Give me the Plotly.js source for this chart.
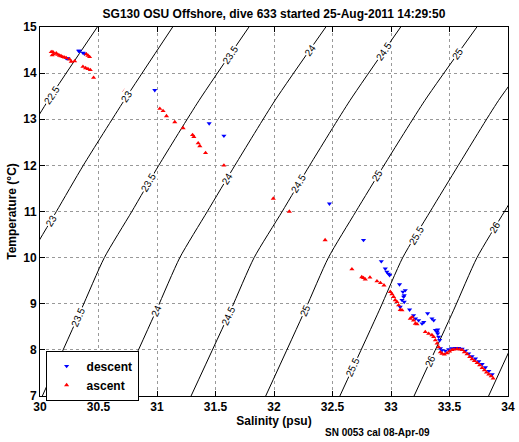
<!DOCTYPE html>
<html>
<head>
<meta charset="utf-8">
<script src="https://cdn.plot.ly/plotly-3.0.1.min.js"></script>
<style>html,body{margin:0;padding:0;background:#fff;}#chart{width:519px;height:442px;}</style>
</head>
<body>
<div id="chart"></div>
<script>
// ---- Data ----
// Descent profile (blue, downward triangles): salinity (psu) and temperature (°C)
const descentS = [30.224, 30.238, 30.33, 30.338, 30.367, 30.38,
  30.981, 31.446, 31.572, 32.474, 32.765, 32.917,
  32.951, 32.965, 32.979, 32.988, 33.073,
  33.122, 33.102, 33.113, 33.108, 33.094, 33.113, 33.159, 33.079,
  33.193, 33.21, 33.236, 33.265, 33.28, 33.313, 33.35, 33.365, 33.40,
  33.379, 33.394, 33.399, 33.407, 33.416,
  33.422, 33.436, 33.465, 33.493, 33.522, 33.55, 33.579, 33.608, 33.636, 33.664,
  33.693, 33.722, 33.75, 33.779, 33.807, 33.836, 33.865];
const descentT = [14.32, 14.32, 14.48, 14.48, 14.44, 14.42,
  13.63, 12.91, 12.64, 11.17, 10.38, 9.92,
  9.76, 9.69, 9.65, 9.62, 9.42,
  9.29, 9.26, 9.18, 9.15, 9.08, 9.04, 8.87, 8.93,
  8.75, 8.68, 8.64, 8.57, 8.60, 8.79, 8.68, 8.64, 8.44,
  8.43, 8.39, 8.35, 8.28, 8.21,
  8.03, 7.99, 7.98, 8.01, 8.03, 8.04, 8.04, 8.02, 7.98, 7.92,
  7.86, 7.81, 7.75, 7.69, 7.62, 7.54, 7.47];

// Ascent profile (red, upward triangles)
const ascentS = [30.096, 30.104, 30.110, 30.116, 30.139, 30.153, 30.167, 30.18, 30.195, 30.21,
  30.224, 30.253, 30.267, 30.296, 30.396, 30.41, 30.424,
  30.367, 30.39, 30.41, 30.43, 30.458,
  30.724, 31.024, 31.052, 31.081, 31.152, 31.223, 31.304, 31.315, 31.352, 31.366, 31.415,
  31.572, 31.994, 32.131, 32.437, 32.666,
  32.75, 32.765, 32.78, 32.82, 32.88, 32.91, 32.94,
  32.994, 33.008, 33.022, 33.036, 33.051, 33.065, 33.079, 33.094,
  33.165, 33.18, 33.193, 33.208, 33.222,
  33.293, 33.322, 33.35, 33.365, 33.379, 33.394, 33.407, 33.422,
  33.436, 33.456, 33.479, 33.501, 33.522, 33.54, 33.565, 33.587, 33.608, 33.627,
  33.65, 33.673, 33.693, 33.713, 33.736, 33.758, 33.779, 33.798, 33.816, 33.836, 33.856, 33.873];
const ascentT = [14.46, 14.39, 14.46, 14.41, 14.43, 14.40, 14.38, 14.37, 14.35, 14.34,
  14.33, 14.30, 14.25, 14.26, 14.41, 14.38, 14.35,
  14.14, 14.11, 14.09, 14.07, 13.90,
  13.62, 13.23, 13.18, 13.07, 12.94, 12.81, 12.66, 12.62, 12.48, 12.42, 12.27,
  12.00, 11.28, 11.00, 10.38, 9.75,
  9.58, 9.56, 9.53, 9.57, 9.49, 9.45, 9.40,
  9.26, 9.21, 9.15, 9.08, 9.04, 8.97, 8.87, 8.86,
  8.68, 8.71, 8.64, 8.57, 8.56,
  8.39, 8.35, 8.32, 8.28, 8.21, 8.14, 8.06, 7.95,
  7.92, 7.90, 7.93, 7.97, 8.00, 8.01, 8.02, 8.01, 8.00, 7.95,
  7.91, 7.85, 7.80, 7.76, 7.72, 7.67, 7.61, 7.56, 7.51, 7.47, 7.43, 7.38];

// Isopycnals (sigma-theta): salinity at these temperatures
const isoT = [7, 8.86, 10, 11, 12, 13.41, 15];
const sigma225S = [28.73, 29.07, 29.27, 29.50, 29.73, 30.07, 30.49];
const sigma23S  = [29.37, 29.71, 29.91, 30.14, 30.37, 30.72, 31.134];
const sigma235S = [30.02, 30.35, 30.55, 30.785, 31.015, 31.36, 31.786];
const sigma24S  = [30.663, 30.995, 31.195, 31.43, 31.666, 32.009, 32.443];
const sigma245S = [31.291, 31.63, 31.83, 32.07, 32.305, 32.65, 33.083];
const sigma25S  = [31.929, 32.265, 32.465, 32.70, 32.94, 33.29, 33.734];
const sigma255S = [32.563, 32.90, 33.10, 33.335, 33.575, 33.92, 34.38];
const sigma26S  = [33.197, 33.535, 33.735, 33.97, 34.21, 34.56, 35.02];
const sigma265S = [33.834, 34.17, 34.37, 34.61, 34.85, 35.2, 35.66];
const isoLevels = ['22.5', '23', '23.5', '24', '24.5', '25', '25.5', '26', '26.5'];

// Inline contour labels: level and temperature where each sits on its line
const labelLevel = ['22.5', '23', '23', '23.5', '23.5', '23.5', '24', '24', '24',
  '24.5', '24.5', '24.5', '25', '25', '25', '25.5', '25.5', '26', '26'];
const labelT = [13.52, 13.49, 10.81, 14.41, 11.62, 8.71, 14.5, 11.72, 8.86,
  14.47, 11.6, 8.75, 14.42, 11.77, 8.86, 10.49, 7.63, 10.67, 7.77];

const xTicks = [30, 30.5, 31, 31.5, 32, 32.5, 33, 33.5, 34];
const yTicks = [7, 8, 9, 10, 11, 12, 13, 14, 15];

// ---- Build chart ----
const isoS = [sigma225S, sigma23S, sigma235S, sigma24S, sigma245S, sigma25S, sigma255S, sigma26S, sigma265S];
const BOLD = {family: 'Liberation Sans, Arial, Helvetica, sans-serif', size: 12, color: '#000', weight: 'bold'};
const W = 519, H = 442;
const M = {l: 40, r: 11, t: 27, b: 46};
const pxPerS = (W - M.l - M.r) / 4;
const pxPerT = (H - M.t - M.b) / 8;

const traces = [];
isoLevels.forEach((lev, i) => {
  traces.push({
    type: 'scatter', mode: 'lines', x: isoS[i], y: isoT,
    line: {color: '#000', width: 1, shape: 'spline', smoothing: 0.6},
    showlegend: false, hoverinfo: 'skip'
  });
});
traces.push({
  type: 'scatter', mode: 'markers', name: 'descent', x: descentS, y: descentT,
  marker: {symbol: 'triangle-down', size: 4.5, color: '#0000ff'}
});
traces.push({
  type: 'scatter', mode: 'markers', name: 'ascent', x: ascentS, y: ascentT,
  marker: {symbol: 'triangle-up', size: 4.5, color: '#ff0000'}
});

function sOnLine(sArr, t) {
  for (let k = 0; k < isoT.length - 1; k++) {
    if (t >= isoT[k] && t <= isoT[k + 1]) {
      const f = (t - isoT[k]) / (isoT[k + 1] - isoT[k]);
      return {s: sArr[k] + f * (sArr[k + 1] - sArr[k]), slope: (sArr[k + 1] - sArr[k]) / (isoT[k + 1] - isoT[k])};
    }
  }
  return {s: sArr[0], slope: 0.25};
}

const annotations = labelLevel.map((lev, j) => {
  const arr = isoS[isoLevels.indexOf(lev)];
  const p = sOnLine(arr, labelT[j]);
  const ang = -Math.atan2(pxPerT, p.slope * pxPerS) * 180 / Math.PI;
  return {
    x: p.s, y: labelT[j], xref: 'x', yref: 'y', text: lev, showarrow: false,
    textangle: ang, bgcolor: '#fff', borderpad: 0,
    font: {family: 'Liberation Sans, Arial, Helvetica, sans-serif', size: 10, color: '#000'}
  };
});
annotations.push({
  text: 'SN 0053 cal 08-Apr-09', xref: 'paper', yref: 'paper', x: 0.722, y: -0.098,
  xanchor: 'center', yanchor: 'middle', showarrow: false,
  font: {family: 'Liberation Sans, Arial, Helvetica, sans-serif', size: 10, color: '#000', weight: 'bold'}
});

const axisCommon = {
  showline: true, linecolor: '#000', linewidth: 1, mirror: 'ticks',
  ticks: 'inside', ticklen: 5, tickcolor: '#000', tickwidth: 1,
  showgrid: true, gridcolor: '#999', griddash: 'dot', gridwidth: 1,
  zeroline: false, tickfont: BOLD, automargin: false
};

const layout = {
  width: W, height: H, margin: M,
  paper_bgcolor: '#fff', plot_bgcolor: '#fff',
  title: {
    text: 'SG130 OSU Offshore, dive 633 started 25-Aug-2011 14:29:50',
    font: BOLD, x: 0.5, xref: 'paper', xanchor: 'center',
    y: 1 - 14 / H, yref: 'container', yanchor: 'middle'
  },
  xaxis: Object.assign({}, axisCommon, {
    range: [30, 34], tickvals: xTicks, ticktext: xTicks.map(String),
    title: {text: 'Salinity (psu)', font: BOLD, standoff: 0}
  }),
  yaxis: Object.assign({}, axisCommon, {
    range: [7, 15], tickvals: yTicks, ticktext: yTicks.map(String),
    title: {text: 'Temperature (\u00B0C)', font: BOLD, standoff: 4}
  }),
  legend: {
    x: 0.012, y: 0.123, xanchor: 'left', yanchor: 'top',
    bgcolor: '#fff', bordercolor: '#000', borderwidth: 1,
    font: BOLD, tracegroupgap: 0
  },
  annotations: annotations,
  showlegend: true
};

Plotly.newPlot('chart', traces, layout, {displayModeBar: false, staticPlot: true});
</script>
</body>
</html>
